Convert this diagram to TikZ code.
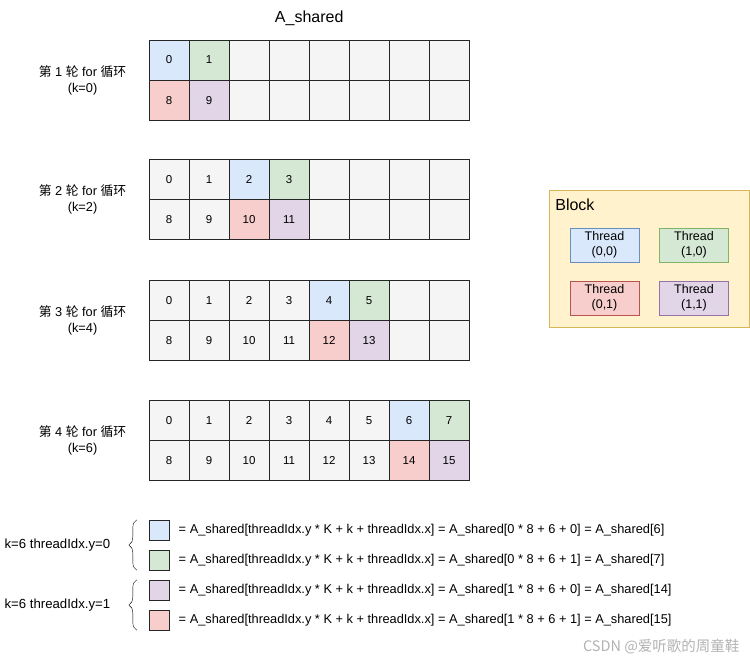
\documentclass[tikz,border=0pt]{standalone}
\usepackage{fontspec}
\setmainfont{Liberation Sans}
\newfontfamily\cjk{Noto Sans CJK SC}
\usetikzlibrary{positioning,decorations.pathreplacing}
\definecolor{cellgray}{HTML}{F5F5F5}
\definecolor{tblue}{HTML}{DAE8FC}\definecolor{tblueline}{HTML}{6C8EBF}
\definecolor{tgreen}{HTML}{D5E8D4}\definecolor{tgreenline}{HTML}{82B366}
\definecolor{tred}{HTML}{F8CECC}\definecolor{tredline}{HTML}{B85450}
\definecolor{tpurple}{HTML}{E1D5E7}\definecolor{tpurpleline}{HTML}{9673A6}
\definecolor{blockfill}{HTML}{FFF2CC}\definecolor{blockline}{HTML}{D6B656}

\begin{document}
\begin{tikzpicture}[x=1pt,y=-1pt,
    every node/.style={font=\fontsize{12.8}{16}\selectfont},
    cell/.style={draw=black!85,fill=cellgray,minimum width=40pt,minimum height=40pt,inner sep=0pt,
      text height=8pt,text depth=0pt,font=\fontsize{11.5}{14}\selectfont},
    thread/.style={minimum width=69pt,minimum height=34pt,inner sep=0pt,align=center,font=\fontsize{12.5}{15}\selectfont},
    swatch/.style={draw=black!85,minimum width=20pt,minimum height=20pt,inner sep=0pt},
    curly/.style={decorate,decoration={brace,amplitude=8pt}}]
\useasboundingbox (0,0) rectangle (750,661);

\foreach \r/\top in {0/40,1/159,2/280,3/400} {
  \pgfmathtruncatemacro\k{2*\r}
  \foreach \c in {0,...,7} {
    \pgfmathtruncatemacro\d{\c-\k}
    \ifnum\d=0 \def\tfil{tblue}\def\bfil{tred}\else
      \ifnum\d=1 \def\tfil{tgreen}\def\bfil{tpurple}\else
        \def\tfil{cellgray}\def\bfil{cellgray}\fi\fi
    \ifnum\d<2 \def\tl{\c}\pgfmathtruncatemacro\bl{\c+8}\else \def\tl{}\def\bl{}\fi
    \node[cell,fill=\tfil] (top\r\c) at (169+40*\c,\top+20) {\tl};
    \node[cell,fill=\bfil] (bot\r\c) at (169+40*\c,\top+60) {\bl};
  }
  \node[left=19pt of top\r0.south west,align=center] (round\r)
    {{\cjk 第} \the\numexpr\r+1\relax{} {\cjk 轮} for {\cjk 循环}\\(k=\k)};
}
\node[above=11pt of top03.north east,font=\fontsize{16}{18}\selectfont] (title) {A\_shared};

\node[draw=blockline,fill=blockfill,minimum width=200pt,minimum height=137pt,inner sep=0pt] (block) at (649,258.5) {};
\node[anchor=north west,font=\fontsize{16}{18}\selectfont] (blocklabel) at ([xshift=3pt,yshift=-6pt]block.north west) {Block};
\node[thread,fill=tblue,draw=tblueline] (t00) at (604.5,245) {Thread\\(0,0)};
\node[thread,fill=tgreen,draw=tgreenline] (t10) at (694,245) {Thread\\(1,0)};
\node[thread,fill=tred,draw=tredline] (t01) at (604.5,298) {Thread\\(0,1)};
\node[thread,fill=tpurple,draw=tpurpleline] (t11) at (694,298) {Thread\\(1,1)};

\foreach \i/\f/\ty/\tx/\idx in {0/tblue/0/0/6,1/tgreen/0/1/7,2/tpurple/1/0/14,3/tred/1/1/15} {
  \node[swatch,fill=\f] (leg\i) at (159,530+30*\i) {};
  \node[right=6pt of leg\i] (eq\i)
    {= A\_shared[threadIdx.y * K + k + threadIdx.x] = A\_shared[\ty{} * 8 + 6 + \tx] = A\_shared[\idx]};
}
\draw[curly] ([xshift=-12pt]leg1.south west) -- ([xshift=-12pt]leg0.north west)
  node[midway,left=23pt,font=\fontsize{13.2}{16}\selectfont] (row0) {k=6 threadIdx.y=0};
\draw[curly] ([xshift=-12pt]leg3.south west) -- ([xshift=-12pt]leg2.north west)
  node[midway,left=23pt,font=\fontsize{13.2}{16}\selectfont] (row1) {k=6 threadIdx.y=1};

\node[anchor=east,text=black!30,font=\cjk\fontsize{14.5}{16}\selectfont] (wm) at (743,647) {CSDN @爱听歌的周童鞋};
\end{tikzpicture}
\end{document}
